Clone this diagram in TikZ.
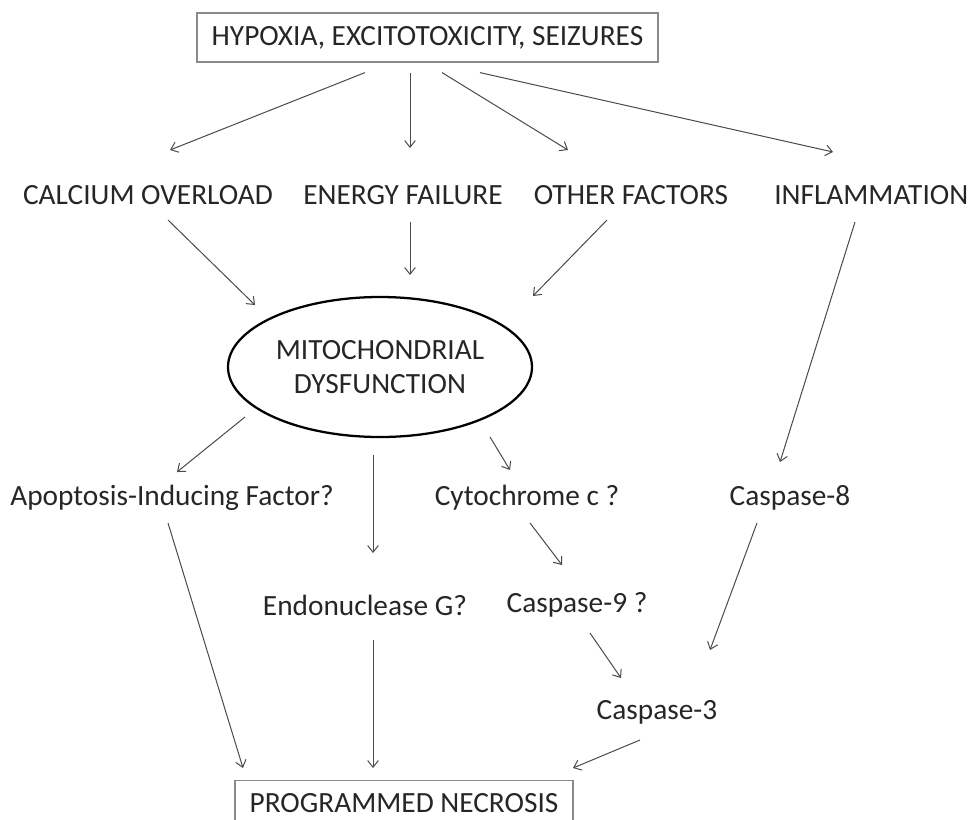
\documentclass[tikz,border=0pt]{standalone}
\usepackage{fontspec}
\setmainfont{Carlito}
\usetikzlibrary{calc,arrows.meta,shapes.geometric}
\definecolor{linegray}{HTML}{4A4A4A}
\definecolor{boxgray}{HTML}{8A8A8A}
\definecolor{textgray}{HTML}{262626}

\begin{document}
\begin{tikzpicture}[x=0.75pt,y=-0.75pt,
  every node/.style={font=\fontsize{22}{26}\selectfont, text=textgray},
  arr/.style={draw=linegray, line width=0.75pt, -{Straight Barb[length=5pt,width=8pt]}},
  labelbox/.style={draw=boxgray, line width=0.9pt, inner sep=0pt}]
  \useasboundingbox (0,0) rectangle (976,819);
  \clip (0,0) rectangle (976,819);
  % causes
  \node[labelbox, minimum width=345.75pt, minimum height=36.75pt] (insult) at (427.5,37.5)
    {HYPOXIA, EXCITOTOXICITY, SEIZURES};
  \node (calcium) at (148,195) {CALCIUM OVERLOAD};
  \node (energy) at (403,195) {ENERGY FAILURE};
  \node (other) at (631,195) {OTHER FACTORS};
  \node[anchor=west, inner xsep=0pt] (inflam) at (774,195) {INFLAMMATION};
  % mitochondria
  \node[ellipse, draw=black, line width=1.7pt, inner sep=0pt, minimum width=228pt,
    minimum height=105pt, align=center, font=\fontsize{22}{25.5}\selectfont] (mito) at (380,367)
    {MITOCHONDRIAL\\DYSFUNCTION};
  % mediators
  \node (aif) at (172,498) {Apoptosis-Inducing Factor?};
  \node (cytc) at (527,498) {Cytochrome c ?};
  \node (casp8) at (790,498) {Caspase-8};
  \node (endog) at (365,605) {Endonuclease G?};
  \node (casp9) at (577,605) {Caspase-9 ?};
  \node (casp3) at (657,712) {Caspase-3};
  \node[labelbox, anchor=north, minimum width=253.5pt, text height=14pt, text depth=25pt,
    inner ysep=10pt] (necrosis) at (404,780) {PROGRAMMED NECROSIS};
  % connectors
  \draw[arr] ($(insult.south)+(-62.5,10)$) -- ($(calcium)+(22,-45)$);
  \draw[arr] ($(insult.south)+(-17.5,10)$) -- ($(energy)+(7,-47)$);
  \draw[arr] ($(insult.south)+(14.5,10)$) -- ($(other)+(-63,-45)$);
  \draw[arr] ($(insult.south)+(52.5,10)$) -- ($(inflam.west)+(59,-43)$);
  \draw[arr] ($(calcium)+(20,25)$) -- ($(mito)+(-125,-62)$);
  \draw[arr] ($(energy)+(7,27)$) -- ($(mito)+(30,-92)$);
  \draw[arr] ($(other)+(-24,25)$) -- ($(mito)+(153,-71)$);
  \draw[arr] ($(inflam.west)+(81,27)$) -- ($(casp8)+(-10,-36)$);
  \draw[arr] ($(mito)+(-135,50)$) -- ($(aif)+(5,-26)$);
  \draw[arr] ($(mito)+(-7,88)$) -- ($(endog)+(8,-52)$);
  \draw[arr] ($(mito)+(110,70)$) -- ($(cytc)+(-17,-28)$);
  \draw[arr] ($(aif)+(-4,25)$) -- ($(necrosis.north)+(-161,-12)$);
  \draw[arr] ($(cytc)+(3,25)$) -- ($(casp9)+(-15,-40)$);
  \draw[arr] ($(casp8)+(-33,25)$) -- ($(casp3)+(53,-62)$);
  \draw[arr] ($(endog)+(8,35)$) -- ($(necrosis.north)+(-31,-12)$);
  \draw[arr] ($(casp9)+(13,28)$) -- ($(casp3)+(-36,-34)$);
  \draw[arr] ($(casp3)+(-17,28)$) -- ($(necrosis.north)+(169,-12)$);
\end{tikzpicture}
\end{document}
